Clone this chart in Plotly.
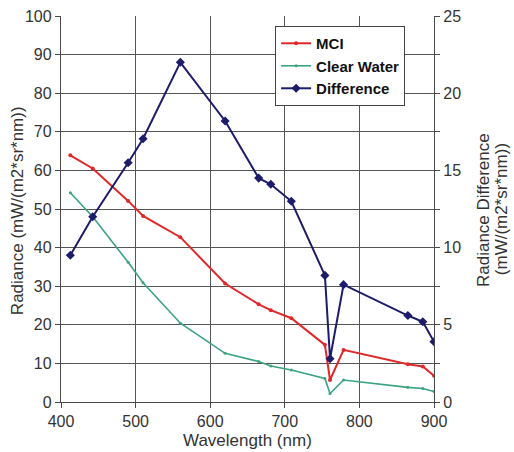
import plotly.graph_objects as go

wavelength = [412.5, 442.5, 490, 510, 560, 620, 665, 681.25, 708.75, 753.75, 760.625, 778.75, 865, 885, 900]
mci = [63.9, 60.5, 52.1, 48.2, 42.7, 30.7, 25.3, 23.8, 21.7, 14.8, 5.7, 13.5, 9.8, 9.2, 6.8]
clear_water = [54.2, 48.0, 36.2, 30.9, 20.4, 12.6, 10.5, 9.3, 8.3, 6.1, 2.2, 5.7, 3.8, 3.5, 2.7]
difference = [9.5, 12.0, 15.5, 17.05, 22.0, 18.2, 14.5, 14.1, 13.0, 8.2, 2.8, 7.6, 5.6, 5.2, 3.9]

FONT = "Liberation Sans, Arial, sans-serif"
AXC = "#4a4a4a"
GRID = "#555555"
TXT = "#333333"

fig = go.Figure()
fig.add_trace(go.Scatter(x=wavelength, y=mci, name="MCI", mode="lines+markers",
                         line=dict(color="#e0282a", width=2),
                         marker=dict(size=4, color="#e0282a")))
fig.add_trace(go.Scatter(x=wavelength, y=clear_water, name="Clear Water", mode="lines+markers",
                         line=dict(color="#3aa37f", width=1.6),
                         marker=dict(size=3, color="#3aa37f")))
fig.add_trace(go.Scatter(x=wavelength, y=difference, name="Difference", mode="lines+markers",
                         yaxis="y2",
                         line=dict(color="#1c1c6b", width=2),
                         marker=dict(size=7, symbol="diamond", color="#1c1c6b")))

ann = [
    dict(text="Wavelength (nm)", x=0.5, y=-0.101, xref="paper", yref="paper",
         showarrow=False, xanchor="center", yanchor="middle",
         font=dict(family=FONT, size=17, color=TXT)),
    dict(text="Radiance (mW/(m2*sr*nm))", x=-0.118, y=0.497, xref="paper", yref="paper",
         showarrow=False, xanchor="center", yanchor="middle", textangle=-90,
         font=dict(family=FONT, size=17, color=TXT)),
    dict(text="Radiance Difference", x=1.131, y=0.497, xref="paper", yref="paper",
         showarrow=False, xanchor="center", yanchor="middle", textangle=-90,
         font=dict(family=FONT, size=17, color=TXT)),
    dict(text="(mW/(m2*sr*nm))", x=1.180, y=0.5, xref="paper", yref="paper",
         showarrow=False, xanchor="center", yanchor="middle", textangle=-90,
         font=dict(family=FONT, size=17, color=TXT)),
]

fig.update_layout(
    template="none",
    width=514, height=452,
    margin=dict(l=61, r=80, t=16, b=50),
    paper_bgcolor="white", plot_bgcolor="white",
    font=dict(family=FONT, size=16, color=TXT),
    showlegend=True,
    legend=dict(x=0.574, y=0.974, xanchor="left", yanchor="top",
                bgcolor="white", bordercolor="#444444", borderwidth=1,
                font=dict(family=FONT, size=15, color="#111111", weight="bold"),
                tracegroupgap=0, itemwidth=30),
    annotations=ann,
    xaxis=dict(range=[400, 900], dtick=100, tick0=400,
               showgrid=True, gridcolor=GRID, gridwidth=1.3,
               showline=True, linecolor=AXC, linewidth=1.3,
               ticks="outside", ticklen=5, tickcolor=AXC,
               tickfont=dict(size=16, color=TXT),
               zeroline=False),
    yaxis=dict(range=[0, 100], dtick=10, tick0=0,
               showgrid=True, gridcolor=GRID, gridwidth=1.3,
               showline=True, linecolor=AXC, linewidth=1.3,
               ticks="outside", ticklen=5, tickcolor=AXC,
               tickfont=dict(size=16, color=TXT),
               zeroline=False),
    yaxis2=dict(range=[0, 25], dtick=5, tick0=0, overlaying="y", side="right",
                showgrid=False,
                showline=True, linecolor=AXC, linewidth=1.3,
                ticks="outside", ticklen=5, tickcolor=AXC,
                tickfont=dict(size=16, color=TXT),
                minor=dict(dtick=2.5, tick0=0, ticks="outside", ticklen=5, tickcolor=AXC, showgrid=False),
                zeroline=False),
)

fig.write_html("out.html")
